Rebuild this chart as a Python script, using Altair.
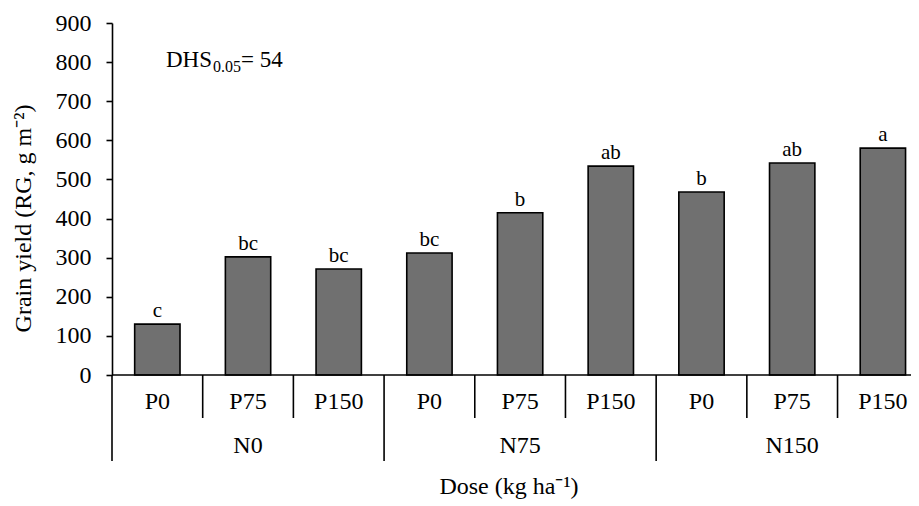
import altair as alt
import pandas as pd

# ---- data ----
n_groups = ["N0", "N75", "N150"]
p_doses = ["P0", "P75", "P150"]
grain_yield = [130, 302, 271, 312, 415, 534, 468, 542, 580]
letters = ["c", "bc", "bc", "bc", "b", "ab", "b", "ab", "a"]
y_ticks = [0, 100, 200, 300, 400, 500, 600, 700, 800, 900]

FONT = "Liberation Serif"
W, H = 799, 352
XMAX = 8.81  # visible part of the 9 category slots (figure cropped on the right)

rows = []
for i, v in enumerate(grain_yield):
    rows.append({
        "N": n_groups[i // 3], "P": p_doses[i % 3], "value": v, "letter": letters[i],
        "x0": i + 0.25, "x1": i + 0.75, "xc": i + 0.5,
    })
df = pd.DataFrame(rows)

sep_short = pd.DataFrame({"pos": [i for i in range(len(grain_yield)) if i % 3 != 0]})
sep_long = pd.DataFrame({"pos": [i for i in range(len(grain_yield)) if i % 3 == 0]})
grp = pd.DataFrame({"N": n_groups, "xc": [g * 3 + 1.5 for g in range(len(n_groups))]})

xscale = alt.Scale(domain=[0, XMAX], nice=False, zero=False)
yscale = alt.Scale(domain=[0, 900], nice=False)

yaxis = alt.Axis(
    values=y_ticks, tickSize=6, labelPadding=15, grid=False, labelOverlap=False,
    labelBound=False, labelFlush=False,
    domainColor="black", domainWidth=1.6, tickColor="black", tickWidth=1.6,
    labelFont=FONT, labelFontSize=24, labelColor="black",
    title="Grain yield (RG, g m⁻²)", titleFont=FONT, titleFontSize=24,
    titleFontWeight="normal", titleColor="black", titlePadding=20, titleY=195,
)

base = alt.Chart(df)

bars = base.mark_rect(fill="#707070", stroke="black", strokeWidth=1.6).encode(
    x=alt.X("x0:Q", scale=xscale, axis=None),
    x2="x1:Q",
    y=alt.Y("value:Q", scale=yscale, axis=yaxis),
    y2=alt.datum(0),
)

letter_text = base.mark_text(font=FONT, fontSize=21, color="black", baseline="alphabetic", dy=-7).encode(
    x=alt.X("xc:Q", scale=xscale, axis=None),
    y=alt.Y("value:Q", scale=yscale, axis=yaxis),
    text="letter:N",
)

baseline = alt.Chart(pd.DataFrame({"value": [0]})).mark_rule(color="black", strokeWidth=1.6).encode(
    y=alt.Y("value:Q", scale=yscale, axis=yaxis), x=alt.value(0), x2=alt.value(W)
)

short_rules = alt.Chart(sep_short).mark_rule(color="black", strokeWidth=1.6).encode(
    x=alt.X("pos:Q", scale=xscale, axis=None), y=alt.value(H), y2=alt.value(H + 43)
)
long_rules = alt.Chart(sep_long).mark_rule(color="black", strokeWidth=1.6).encode(
    x=alt.X("pos:Q", scale=xscale, axis=None), y=alt.value(H), y2=alt.value(H + 86)
)

p_labels = base.mark_text(font=FONT, fontSize=24, color="black", baseline="middle").encode(
    x=alt.X("xc:Q", scale=xscale, axis=None), y=alt.value(H + 27), text="P:N"
)
n_labels = alt.Chart(grp).mark_text(font=FONT, fontSize=24, color="black", baseline="middle").encode(
    x=alt.X("xc:Q", scale=xscale, axis=None), y=alt.value(H + 71), text="N:N"
)

x_title = alt.Chart(pd.DataFrame({"t": ["Dose (kg ha⁻¹)"]})).mark_text(
    font=FONT, fontSize=24, color="black", baseline="middle"
).encode(x=alt.value(397), y=alt.value(H + 112), text="t:N")

dhs_main = alt.Chart(pd.DataFrame({"t": ["DHS"]})).mark_text(
    font=FONT, fontSize=23, color="black", align="left", baseline="alphabetic"
).encode(x=alt.value(54), y=alt.value(44), text="t:N")
dhs_sub = alt.Chart(pd.DataFrame({"t": ["0.05"]})).mark_text(
    font=FONT, fontSize=16, color="black", align="left", baseline="alphabetic"
).encode(x=alt.value(101), y=alt.value(49), text="t:N")
dhs_val = alt.Chart(pd.DataFrame({"t": ["= 54"]})).mark_text(
    font=FONT, fontSize=23, color="black", align="left", baseline="alphabetic"
).encode(x=alt.value(129), y=alt.value(44), text="t:N")

chart = alt.layer(
    bars, letter_text, baseline, short_rules, long_rules, p_labels, n_labels,
    x_title, dhs_main, dhs_sub, dhs_val
).properties(
    width=W, height=H,
    autosize=alt.AutoSizeParams(type="none"),
    padding={"left": 104, "top": 15, "right": 0, "bottom": 130},
).configure_view(stroke=None)

chart.save("out.html", embed_options={"renderer": "svg", "actions": False})
